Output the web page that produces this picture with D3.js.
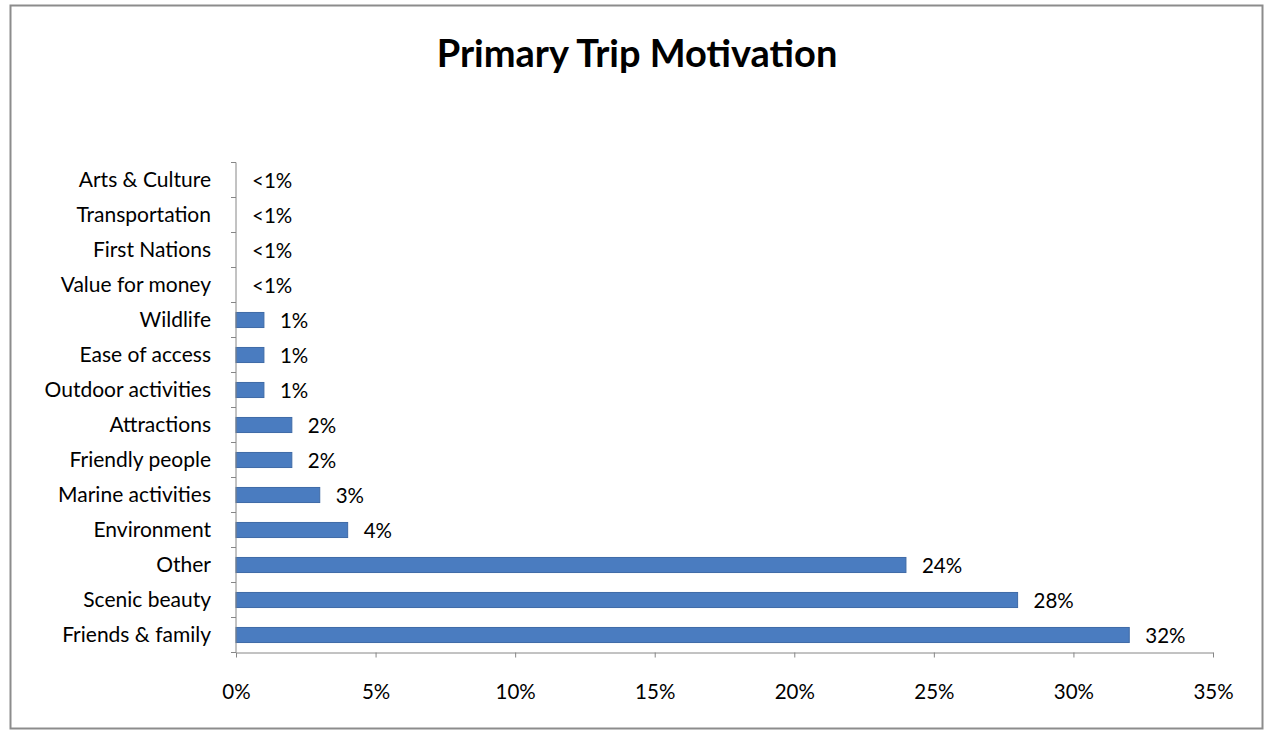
<!DOCTYPE html>
<html>
<head>
<meta charset="utf-8">
<script src="https://cdn.jsdelivr.net/npm/d3@7"></script>
<style>
  html, body { margin: 0; padding: 0; background: #fff; }
  svg { display: block; }
</style>
</head>
<body>
<svg id="chart"></svg>
<script>
const categories = [
  "Arts & Culture", "Transportation", "First Nations", "Value for money",
  "Wildlife", "Ease of access", "Outdoor activities", "Attractions",
  "Friendly people", "Marine activities", "Environment", "Other",
  "Scenic beauty", "Friends & family"
];
// percent share; the <1% rows are too small to show a bar
const values = [0, 0, 0, 0, 1, 1, 1, 2, 2, 3, 4, 24, 28, 32];
const xTicks = [0, 5, 10, 15, 20, 25, 30, 35];

function drawChart() {
  const width = 1265, height = 735;
  const margin = { top: 162.5, right: 52, bottom: 82.5, left: 236 };
  const chartWidth = width - margin.left - margin.right;
  const chartHeight = height - margin.top - margin.bottom;
  const font = "Lato, 'Open Sans', sans-serif";

  const svg = d3.select("#chart").attr("width", width).attr("height", height);
  svg.selectAll("*").remove();

  // outer frame
  svg.append("rect")
    .attr("x", 10.5).attr("y", 5.5)
    .attr("width", 1252).attr("height", 723)
    .attr("fill", "#fff")
    .attr("stroke", "#8c8c8c")
    .attr("stroke-width", 2);

  svg.append("text")
    .attr("x", 637).attr("y", 67)
    .attr("text-anchor", "middle")
    .style("font-family", font)
    .style("font-size", "38px")
    .style("font-weight", "bold")
    .style("fill", "#000")
    .text("Primary Trip Motivation");

  const g = svg.append("g").attr("transform", `translate(${margin.left},${margin.top})`);

  const xScale = d3.scaleLinear().domain([0, 35]).range([0, chartWidth]);
  const yScale = d3.scaleBand()
    .domain(categories)
    .range([0, chartHeight])
    .paddingInner(0.57)
    .paddingOuter(0.285);

  const data = categories.map((c, i) => ({ name: c, value: values[i] }));

  g.selectAll("rect.bar")
    .data(data)
    .enter()
    .append("rect")
    .attr("class", "bar")
    .attr("x", 0)
    .attr("y", d => yScale(d.name))
    .attr("width", d => xScale(d.value))
    .attr("height", yScale.bandwidth())
    .attr("fill", "#4a7cc0")
    .attr("stroke", "#3f6aa6")
    .attr("stroke-width", d => d.value > 0 ? 1 : 0);

  g.selectAll("text.val")
    .data(data)
    .enter()
    .append("text")
    .attr("class", "val")
    .attr("x", d => xScale(d.value) + 16)
    .attr("y", d => yScale(d.name) + yScale.bandwidth() / 2 + 1)
    .attr("dy", "0.35em")
    .style("font-family", font)
    .style("font-size", "20.5px")
    .style("fill", "#000")
    .text(d => d.value < 1 ? "<1%" : d.value + "%");

  // category axis: line with outward ticks at band edges
  const step = yScale.step();
  const yAxis = g.append("g").attr("class", "y-axis");
  yAxis.append("line")
    .attr("x1", 0).attr("x2", 0)
    .attr("y1", 0).attr("y2", chartHeight)
    .attr("stroke", "#868686");
  yAxis.selectAll("line.tick")
    .data(d3.range(categories.length + 1))
    .enter()
    .append("line")
    .attr("class", "tick")
    .attr("x1", -5).attr("x2", 0)
    .attr("y1", i => i * step).attr("y2", i => i * step)
    .attr("stroke", "#868686");
  yAxis.selectAll("text")
    .data(categories)
    .enter()
    .append("text")
    .attr("x", -25)
    .attr("y", d => yScale(d) + yScale.bandwidth() / 2)
    .attr("dy", "0.35em")
    .attr("text-anchor", "end")
    .style("font-family", font)
    .style("font-size", "21px")
    .style("fill", "#000")
    .text(d => d);

  const xAxis = g.append("g")
    .attr("transform", `translate(0,${chartHeight})`)
    .call(d3.axisBottom(xScale).tickValues(xTicks).tickSize(5).tickSizeOuter(0).tickPadding(27)
      .tickFormat(d => d + "%"));
  xAxis.select(".domain").attr("stroke", "#868686");
  xAxis.selectAll(".tick line").attr("stroke", "#868686");
  xAxis.selectAll(".tick text")
    .style("font-family", font)
    .style("font-size", "20.5px")
    .style("fill", "#000");
}

drawChart();
</script>
</body>
</html>
